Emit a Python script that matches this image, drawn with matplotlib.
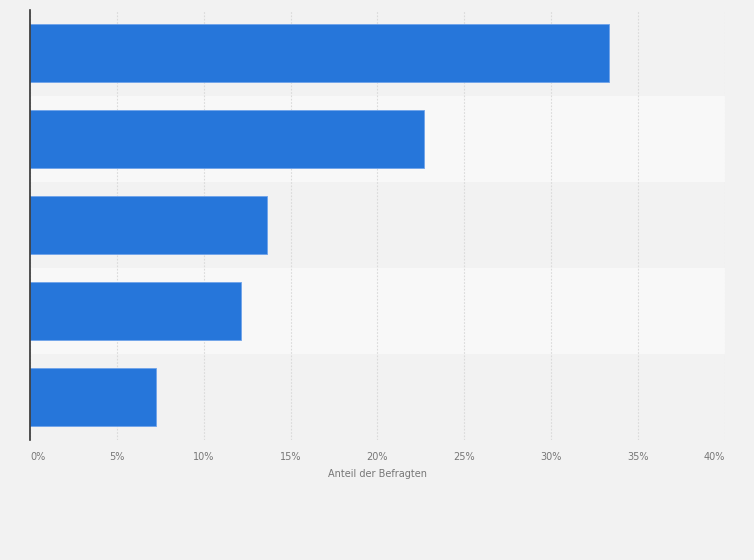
import numpy as np
import matplotlib.pyplot as plt

# values (percent of respondents), top to bottom
werte = [33.3, 22.7, 13.65, 12.15, 7.27]
ticks = [0, 5, 10, 15, 20, 25, 30, 35, 40]
tick_labels = ["0%", "5%", "10%", "15%", "20%", "25%", "30%", "35%", "40%"]
xlabel = "Anteil der Befragten"

BG = "#f2f2f2"
BAND_LIGHT = "#f8f8f8"
BLUE = "#2676da"

fig = plt.figure(figsize=(7.54, 5.60), dpi=100, facecolor=BG)
ax = fig.add_axes([30 / 754, 1 - 440 / 560, 695 / 754, 430 / 560])
ax.set_facecolor(BG)

n = len(werte)
y = np.arange(n)

# alternating row bands
for i in range(n):
    if i % 2 == 1:
        ax.axhspan(i - 0.5, i + 0.5, color=BAND_LIGHT, zorder=0, lw=0)

ax.barh(y, werte, height=0.68, color=BLUE, edgecolor="#6fa3ea",
        linewidth=0.6, zorder=3)

ax.set_ylim(n - 0.5, -0.5)
ax.set_xlim(0, 40)
ax.set_yticks([])

ax.set_xticks(ticks)
ax.set_xticklabels(tick_labels, fontsize=7, color="#777777")
labels = ax.get_xticklabels()
labels[0].set_ha("left")
labels[-1].set_ha("right")
ax.tick_params(axis="x", length=0, pad=9)

ax.xaxis.grid(True, color="#dadada", linestyle=(0, (1.5, 1.5)), linewidth=0.8, zorder=1)
ax.set_axisbelow(True)

for s in ["top", "right", "bottom"]:
    ax.spines[s].set_visible(False)
ax.spines["left"].set_color("#333333")
ax.spines["left"].set_linewidth(1.2)
ax.spines["left"].set_zorder(4)

ax.set_xlabel(xlabel, fontsize=7, color="#777777", labelpad=5)

fig.savefig("out.png", dpi=100, facecolor=BG)
